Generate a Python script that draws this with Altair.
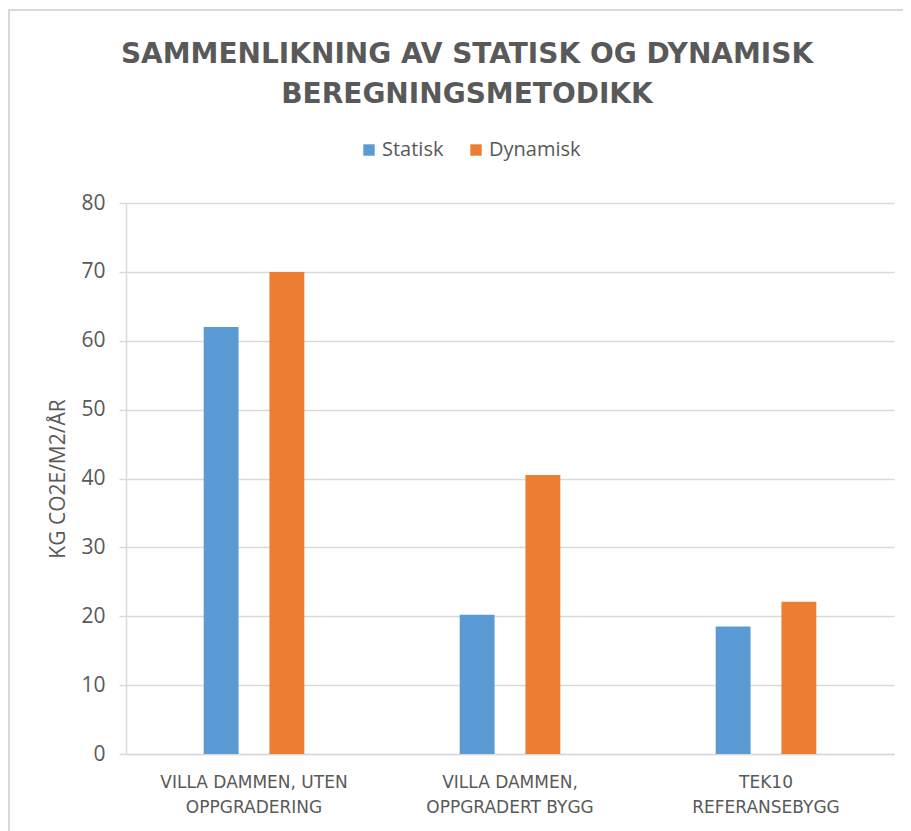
import altair as alt
import pandas as pd

categories = ["VILLA DAMMEN, UTEN\nOPPGRADERING", "VILLA DAMMEN,\nOPPGRADERT BYGG", "TEK10\nREFERANSEBYGG"]
series = ["Statisk", "Dynamisk"]
statisk = [62.0, 20.2, 18.5]
dynamisk = [70.0, 40.5, 22.1]
colors = ["#5B9BD5", "#ED7D31"]
y_ticks = [0, 10, 20, 30, 40, 50, 60, 70, 80]

rows = []
for c, s, d in zip(categories, statisk, dynamisk):
    rows.append({"kategori": c, "serie": "Statisk", "verdi": s})
    rows.append({"kategori": c, "serie": "Dynamisk", "verdi": d})
df = pd.DataFrame(rows)

gray = "#595959"
light = "#d9d9d9"

bars = alt.Chart(df).mark_bar().encode(
    x=alt.X("kategori:N", sort=categories,
            scale=alt.Scale(paddingInner=0.35, paddingOuter=0.175),
            axis=alt.Axis(title=None, labelAngle=0, labelExpr="split(datum.label, '\\n')",
                          labelFont="DejaVu Sans", labelFontSize=17, labelColor=gray,
                          labelLineHeight=25, labelPadding=20, labelLimit=400, ticks=False,
                          domainColor=light, domainWidth=1.5, grid=False)),
    xOffset=alt.XOffset("serie:N", sort=series,
                        scale=alt.Scale(paddingInner=0.47, paddingOuter=0.5)),
    y=alt.Y("verdi:Q", scale=alt.Scale(domain=[0, 80]),
            axis=alt.Axis(values=y_ticks, title="KG CO2E/M2/ÅR", titleFont="Open Sans",
                          titleFontSize=21, titleFontWeight="normal", titleColor=gray,
                          titlePadding=12, labelFont="Open Sans", labelFontSize=21,
                          labelColor=gray, labelPadding=14, ticks=True, tickSize=7,
                          tickColor=light, tickWidth=1.5, domain=True, domainColor=light,
                          domainWidth=1.5, gridColor=light, gridWidth=1.5)),
    color=alt.Color("serie:N", sort=series,
                    scale=alt.Scale(domain=series, range=colors),
                    legend=alt.Legend(title=None, orient="none", direction="horizontal",
                                      legendX=233, legendY=-63, symbolType="square",
                                      symbolSize=130, symbolStrokeWidth=0,
                                      labelFont="Open Sans", labelFontSize=20,
                                      labelColor=gray, columnPadding=22, labelOffset=3)),
)

frame = alt.Chart(df).mark_rect(fill=None, stroke=light, strokeWidth=1.5, clip=False).encode(
    x=alt.value(-117), x2=alt.value(900), y=alt.value(-193), y2=alt.value(700)
)

chart = alt.layer(frame, bars).properties(
    width=768, height=551,
    title=alt.TitleParams(
        text=["SAMMENLIKNING AV STATISK OG DYNAMISK", "BEREGNINGSMETODIKK"],
        font="DejaVu Sans", fontSize=28, fontWeight="bold", color=gray,
        lineHeight=40, anchor="middle", dx=-43, offset=0, dy=100,
    ),
    padding={"left": 118, "top": 195, "right": 9, "bottom": 77},
    autosize=alt.AutoSizeParams(type="none"),
).configure_view(stroke=None)

chart.save("out.html", embed_options={"renderer": "svg", "actions": False})
